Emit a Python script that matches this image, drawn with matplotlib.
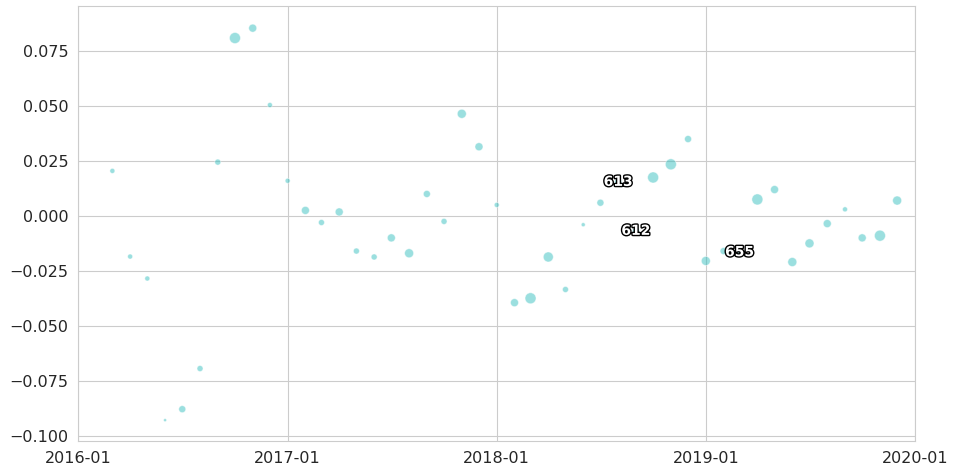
import numpy as np
import pandas as pd
import matplotlib
matplotlib.use("Agg")
import matplotlib.pyplot as plt
import matplotlib.dates as mdates
import matplotlib.patheffects as pe
import seaborn as sns

# monthly values
months = pd.date_range("2016-03-01", "2019-12-01", freq="MS")
values = [0.0205, -0.0185, -0.0285, -0.093, -0.088, -0.0695, 0.0245, 0.081, 0.0855, 0.0505,
          0.016, 0.0025, -0.003, 0.0018, -0.016, -0.0187, -0.010, -0.017, 0.010, -0.0025,
          0.0465, 0.0315, 0.005, -0.0395, -0.0375, -0.0187, -0.0335, -0.004, 0.006, 0.0155,
          -0.0068, 0.0175, 0.0235, 0.035, -0.0205, -0.016, -0.0165, 0.0075, 0.012, -0.021,
          -0.0125, -0.0035, 0.003, -0.010, -0.009, 0.007]
# bubble weight (diameter-ish)
weights = [5, 5, 5, 3, 7, 6, 6, 11, 8, 5,
           5, 8, 6, 8, 6, 6, 8, 9, 7, 6,
           9, 8, 5, 8, 11, 10, 6, 4, 7, 7,
           7, 11, 11, 7, 9, 7, 8, 11, 8, 9,
           9, 8, 5, 8, 11, 9]
labels = {"2018-08-01": "613", "2018-09-01": "612", "2019-03-01": "655"}

sns.set_style("whitegrid")
plt.rcParams["font.family"] = ["DejaVu Sans"]

fig, ax = plt.subplots(figsize=(9.56, 4.76), dpi=100)
fig.subplots_adjust(left=0.0816, right=0.957, top=0.987, bottom=0.0735)

w = np.array(weights, dtype=float)
ax.scatter(months, values, s=(w * 0.72) ** 2, color="#38c0c0", alpha=0.5,
           edgecolor="white", linewidth=0.6, zorder=3)

for d, txt in labels.items():
    i = list(months).index(pd.Timestamp(d))
    ax.text(months[i], values[i], txt, ha="center", va="center", fontsize=10,
            fontweight="bold", color="white", zorder=5,
            path_effects=[pe.Stroke(linewidth=2, foreground="black"), pe.Normal()])


def fmt(v, p):
    if abs(v) < 1e-9:
        v = 0.0
    return f"{v:.3f}".replace("-", "\u2212")


ax.set_xlim(pd.Timestamp("2016-01-01"), pd.Timestamp("2020-01-01"))
ax.set_ylim(-0.1025, 0.0955)
ax.xaxis.set_major_locator(mdates.YearLocator())
ax.xaxis.set_major_formatter(mdates.DateFormatter("%Y-%m"))
ax.set_yticks(np.arange(-0.1, 0.08, 0.025))
ax.yaxis.set_major_formatter(plt.FuncFormatter(fmt))
ax.tick_params(labelsize=11.5, colors="#262626")

plt.savefig("out.png", dpi=100)
